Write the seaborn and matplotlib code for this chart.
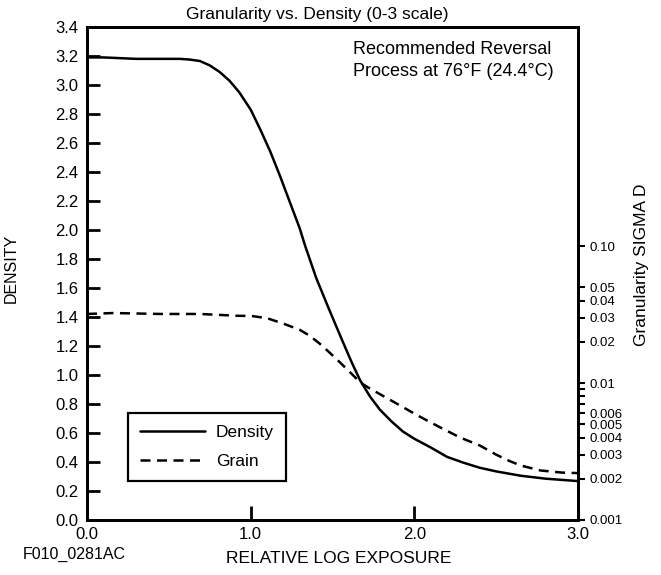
import matplotlib
matplotlib.use("Agg")
import matplotlib.pyplot as plt
import matplotlib.ticker as mticker
import pandas as pd
import seaborn as sns

# density curve (left axis)
x_density = [0.0, 0.1, 0.2, 0.3, 0.45, 0.57, 0.63, 0.69, 0.75, 0.81, 0.87, 0.93,
             1.0, 1.06, 1.12, 1.18, 1.24, 1.30, 1.33, 1.40, 1.48, 1.57, 1.62, 1.67,
             1.73, 1.79, 1.86, 1.93, 2.0, 2.10, 2.2, 2.3, 2.4, 2.5, 2.65, 2.8, 3.0]
density = [3.19, 3.19, 3.185, 3.18, 3.18, 3.18, 3.175, 3.165, 3.135, 3.09, 3.03, 2.95,
           2.83, 2.69, 2.54, 2.37, 2.19, 2.01, 1.90, 1.67, 1.45, 1.21, 1.08, 0.96,
           0.85, 0.76, 0.68, 0.61, 0.56, 0.50, 0.435, 0.395, 0.36, 0.335, 0.305, 0.285, 0.268]

# granularity sigma D (right axis, log)
x_grain = [0.0, 0.16, 0.45, 0.69, 0.93, 1.0, 1.1, 1.2, 1.3, 1.36, 1.42, 1.48, 1.55,
           1.61, 1.67, 1.73, 1.79, 1.9, 2.02, 2.15, 2.28, 2.40, 2.5, 2.58, 2.65,
           2.77, 2.9, 3.0]
grain = [0.032, 0.0325, 0.032, 0.032, 0.031, 0.031, 0.0298, 0.0272, 0.0245, 0.0222,
         0.0195, 0.0168, 0.014, 0.0119, 0.0101, 0.0091, 0.0083, 0.0070, 0.0058, 0.0048,
         0.0040, 0.0035, 0.0030, 0.0027, 0.0025, 0.0023, 0.00222, 0.0022]

density_ticks = [round(0.2 * i, 1) for i in range(18)]
x_ticks = [0.0, 1.0, 2.0, 3.0]
grain_ticks = [0.001, 0.002, 0.003, 0.004, 0.005, 0.006, 0.01, 0.02, 0.03, 0.04, 0.05, 0.10]
grain_labels = ["0.001", "0.002", "0.003", "0.004", "0.005", "0.006",
                "0.01", "0.02", "0.03", "0.04", "0.05", "0.10"]
grain_minor = [0.007, 0.008, 0.009]

sns.set_style("ticks", {'axes.edgecolor': 'black', 'text.color': 'black',
                        'xtick.color': 'black', 'ytick.color': 'black',
                        'axes.labelcolor': 'black'})
plt.rcParams['font.family'] = ['Liberation Sans', 'DejaVu Sans']
plt.rcParams['axes.linewidth'] = 2.0

df_d = pd.DataFrame({'x': x_density, 'y': density})
df_g = pd.DataFrame({'x': x_grain, 'y': grain})

fig = plt.figure(figsize=(6.61, 5.75), dpi=100)
ax = fig.add_axes([0.1316, 0.0957, 0.7429, 0.8574])
ax2 = ax.twinx()

sns.lineplot(data=df_d, x='x', y='y', ax=ax, color='black', lw=1.8, label='Density', legend=False)
sns.lineplot(data=df_g, x='x', y='y', ax=ax2, color='black', lw=1.8,
             linestyle=(0, (4, 2.6)), label='Grain', legend=False)

ax.set_xlim(0, 3.0)
ax.set_ylim(0, 3.4)
ax.set_xticks(x_ticks)
ax.set_xticklabels([f"{v:.1f}" for v in x_ticks])
ax.set_yticks(density_ticks)
ax.set_yticklabels([f"{v:.1f}" for v in density_ticks])
ax.tick_params(axis='y', direction='in', length=9.5, width=2.0, labelsize=12, pad=6)
ax.tick_params(axis='x', direction='in', length=10, width=2.0, labelsize=12, pad=5)
ax.set_xlabel('RELATIVE LOG EXPOSURE', fontsize=12.5)
ax.xaxis.set_label_coords(0.513, -0.062)
ax.set_ylabel('DENSITY', fontsize=11.5)
ax.yaxis.set_label_coords(-0.139, 0.511)

ax2.set_yscale('log')
ax2.set_ylim(0.001, 4.0)
ax2.yaxis.set_major_locator(mticker.FixedLocator(grain_ticks))
ax2.yaxis.set_major_formatter(mticker.FixedFormatter(grain_labels))
ax2.yaxis.set_minor_locator(mticker.FixedLocator(grain_minor))
ax2.yaxis.set_minor_formatter(mticker.NullFormatter())
ax2.tick_params(axis='y', which='both', direction='out', length=5, width=1.5, labelsize=9.5, pad=3)
ax2.set_ylabel('Granularity SIGMA D', fontsize=12.5)
ax2.yaxis.set_label_coords(1.114, 0.518)
for sp in ax2.spines.values():
    sp.set_linewidth(2.0)

ax.text(0.5418, 0.932, 'Recommended Reversal\nProcess at 76°F (24.4°C)', transform=ax.transAxes,
        ha='left', va='center', fontsize=13, linespacing=1.4)

fig.text(0.48, 0.974, 'Granularity vs. Density (0-3 scale)', ha='center', va='center', fontsize=12.5)
fig.text(0.0348, 0.0365, 'F010_0281AC', ha='left', va='center', fontsize=11.5)

h1, l1 = ax.get_legend_handles_labels()
h2, l2 = ax2.get_legend_handles_labels()
leg = ax2.legend(h1 + h2, l1 + l2, loc='lower left', bbox_to_anchor=(0.0835, 0.079),
                 borderaxespad=0, fontsize=12.5, handlelength=3.75, handletextpad=0.6,
                 fancybox=False, framealpha=1, edgecolor='black', borderpad=0.7,
                 labelspacing=0.78)
leg.get_frame().set_linewidth(1.6)

fig.savefig("out.png", dpi=100)
